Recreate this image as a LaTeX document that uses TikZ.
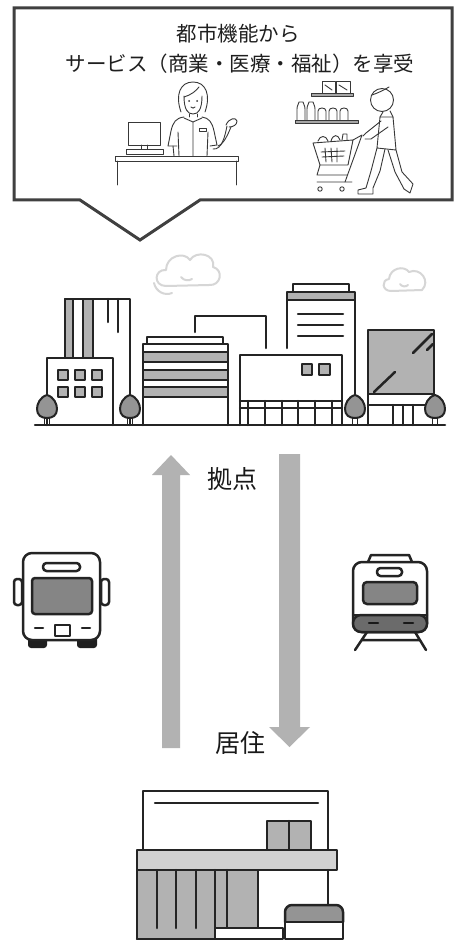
\documentclass[tikz,border=0pt]{standalone}
\usepackage{fontspec}
\newfontfamily\jpfont{Noto Sans CJK JP}
\begin{document}
\begin{tikzpicture}[x=1pt,y=-1pt,
  ink/.style={draw=black!86,line width=2.5pt,line join=round,line cap=round},
  sketch/.style={draw=black!78,line width=0.9pt,line join=round,line cap=round},
  shade/.style={fill=black!30},
  dark/.style={fill=black!48},
  cloud/.style={draw=black!16,line width=2pt,line cap=round,line join=round},
  flow/.style={fill=black!30,draw=none},
  caption/.style={font=\jpfont\fontsize{20.5}{24}\selectfont,text=black!88,inner sep=0pt},
  tag/.style={font=\jpfont\fontsize{25}{28}\selectfont,text=black!90,inner sep=0pt}]
\useasboundingbox (0,0) rectangle (455,941);
\fill[white] (0,0) rectangle (455,941);

% speech bubble
\draw[draw=black!75,line width=3pt,fill=white,line join=miter]
  (14,8) -- (452,8) -- (452,200) -- (200,200) -- (140,240) -- (80,200) -- (14,200) -- cycle;
\node[caption] (title) at (238,34) {都市機能から};
\node[caption] (service) at (240,64) {サービス（商業・医療・福祉）を享受};

% counter with clerk
\draw[sketch] (128,122) rectangle (160,145);
\draw[sketch] (141,145) -- (141,149) (147,145) -- (147,149);
\draw[sketch] (126,149) rectangle (163,154);
\draw[sketch] (115,156) rectangle (238,161);
\draw[sketch] (117,161) -- (117,185) (236,161) -- (236,185);
\draw[sketch] (181,112) .. controls (175,95) and (180,82) .. (193,82)
  .. controls (206,82) and (211,95) .. (205,112);
\draw[sketch] (184,96) .. controls (184,110) and (188,114) .. (193,114)
  .. controls (198,114) and (202,110) .. (202,96);
\draw[sketch] (184,97) .. controls (191,95) and (196,91) .. (199,87);
\fill[black!80] (189,101) circle[radius=1pt] (197,101) circle[radius=1pt];
\draw[sketch] (191,107) .. controls (192,108.5) and (194,108.5) .. (195,107);
\draw[sketch] (189,114) -- (189,117) (197,114) -- (197,117);
\draw[sketch] (184,118) -- (193,122) -- (202,118);
\draw[sketch] (184,117) .. controls (176,118) and (173,122) .. (171,131)
  -- (168,146) -- (177,146);
\draw[sketch] (173,146) -- (174,156) (178,132) -- (179,156);
\draw[sketch] (202,117) .. controls (209,118) and (212,122) .. (214,131)
  -- (217,145) -- (210,146);
\draw[sketch] (208,132) -- (207,156) (193,122) -- (193,156);
\draw[sketch] (199,128) rectangle (206,131);
\draw[sketch] (213,149) .. controls (222,150) and (225,136) .. (227,126);
\draw[sketch] (218,146) .. controls (224,144) and (228,134) .. (231,127);
\draw[sketch] (226,125) .. controls (229,118) and (236,117) .. (237,121)
  .. controls (237,125) and (233,127) .. (229,127);

% shelves and shopper
\draw[sketch] (322,81) rectangle (335,93) (336,81) rectangle (350,93);
\draw[sketch] (325,85) -- (332,90) (339,85) -- (347,90);
\draw[sketch,fill=black!35] (311,93) rectangle (353,96);
\foreach \bx in {297,307}
  \draw[sketch] (\bx,120) -- (\bx,109) .. controls (\bx,105) and (\bx+2,104) .. (\bx+2,102)
    -- (\bx+6,102) .. controls (\bx+6,104) and (\bx+8,105) .. (\bx+8,109) -- (\bx+8,120);
\foreach \jx in {318,329,340}
  \draw[sketch] (\jx,120) -- (\jx,111) .. controls (\jx,107) and (\jx+8,107) .. (\jx+8,111) -- (\jx+8,120);
\draw[sketch,fill=black!35] (295,120) rectangle (358,123);
\draw[sketch] (313,143) -- (353,140) -- (348,165) -- (320,165) -- cycle;
\draw[sketch] (318,141) .. controls (320,135) and (326,135) .. (328,141)
  (331,141) .. controls (333,134) and (338,134) .. (340,140) (342,140) -- (343,134) -- (347,134) -- (347,140);
\draw[sketch] (325,148) -- (326,162) (331,148) -- (332,162) (337,148) -- (337,162)
  (321,152) -- (345,151) (322,157) -- (344,156);
\draw[sketch] (353,140) -- (362,135) (362,135) -- (345,182);
\draw[sketch] (320,165) -- (317,175) -- (347,175) (317,182) -- (352,182);
\draw[sketch] (320,189) circle[radius=2.2pt] (342,189) circle[radius=2.2pt];
\draw[sketch] (382,100) circle[radius=11.5pt];
\draw[sketch] (372,95) .. controls (378,93) and (384,90) .. (389,87);
\draw[sketch] (383,112) -- (380,117) (390,111) -- (393,117);
\draw[sketch] (380,117) -- (377,148) -- (396,150) -- (393,117) -- cycle;
\draw[sketch] (381,121) -- (366,133) -- (363,136) (388,127) -- (371,139) -- (365,139);
\draw[sketch] (377,148) -- (371,171) -- (366,188) -- (358,190) -- (358,194) -- (373,194) -- (373,188)
  (385,149) -- (380,171) -- (373,188);
\draw[sketch] (396,150) -- (402,172) -- (413,184) -- (410,193) -- (404,189)
  (388,150) -- (395,172) -- (404,189);

% clouds
\draw[cloud] (166,286) .. controls (153,286) and (154,269) .. (166,270)
  .. controls (166,256) and (184,251) .. (190,260)
  .. controls (196,250) and (216,254) .. (213,267)
  .. controls (224,270) and (221,286) .. (209,285) -- cycle;
\draw[cloud] (181,277) .. controls (184,281) and (189,281) .. (192,279);
\draw[cloud] (154,283) .. controls (156,292) and (165,296) .. (172,293);
\draw[cloud] (391,291) .. controls (382,291) and (381,280) .. (389,279)
  .. controls (390,268) and (404,265) .. (409,272)
  .. controls (420,267) and (431,281) .. (422,290) -- cycle;
\draw[cloud] (400,284) .. controls (402,287) and (406,287) .. (408,285);

% skyline
\draw[ink] (65,358) -- (65,299) -- (130,299) -- (130,425);
\draw[ink,shade] (65,299) rectangle (73,358) (83,299) rectangle (93,358);
\draw[ink] (108,299) -- (108,322) (118,299) -- (118,332);
\draw[ink,fill=white] (47,425) -- (47,358) -- (113,358) -- (113,425);
\foreach \wx in {58,75,92}
  \foreach \wy in {370,387}
    \draw[ink,shade] (\wx,\wy) rectangle ++(10,10);
\draw[ink] (195,332) -- (195,316) -- (266,316) -- (266,348);
\draw[ink,fill=white] (147,344) -- (147,337) -- (223,337) -- (223,344);
\draw[ink,fill=white] (143,425) -- (143,344) -- (228,344) -- (228,425);
\foreach \sy in {352,370,387}
  \draw[ink,shade] (143,\sy) rectangle (228,\sy+10);
\draw[ink,fill=white] (293,292) -- (293,284) -- (349,284) -- (349,292);
\draw[ink,shade] (287,292) rectangle (355,300);
\draw[ink] (287,300) -- (287,348) (355,300) -- (355,400);
\foreach \ly in {314,325,336}
  \draw[ink] (298,\ly) -- (343,\ly);
\draw[ink,fill=white] (240,425) -- (240,355) -- (342,355) -- (342,425);
\draw[ink] (240,401) -- (342,401) (240,408) -- (342,408);
\foreach \mx in {248,265,282,298,315,332}
  \draw[ink] (\mx,401) -- (\mx,425);
\draw[ink,shade] (302,364) rectangle (312,375) (319,364) rectangle (330,375);
\draw[ink,shade] (368,330) rectangle (434,394);
\draw[ink] (368,394) -- (368,425) (434,394) -- (434,405) (368,405) -- (434,405);
\foreach \mx in {393,403,413}
  \draw[ink] (\mx,405) -- (\mx,425);
\draw[ink] (374,392) -- (395,372) (413,353) -- (432,334) (427,350) -- (433,344);
\foreach \tx in {47,130,355,435} {
  \draw[ink,line width=1.8pt] (\tx-2.5,417) -- (\tx-2.5,425) (\tx+2.5,417) -- (\tx+2.5,425);
  \draw[ink,line width=2pt,fill=black!42] (\tx,395) .. controls (\tx+7,397) and (\tx+10,404) .. (\tx+10,409)
    .. controls (\tx+10,415) and (\tx+6,418) .. (\tx,418) .. controls (\tx-6,418) and (\tx-10,415) .. (\tx-10,409)
    .. controls (\tx-10,404) and (\tx-7,397) .. (\tx,395) -- cycle;
}
\draw[ink] (35,425) -- (445,425);

% two way arrows
\fill[flow] (162,748) -- (162,475) -- (152,475) -- (171,455) -- (190,475) -- (180,475) -- (180,748) -- cycle;
\fill[flow] (279,454) -- (300,454) -- (300,727) -- (310,727) -- (289.5,747) -- (269,727) -- (279,727) -- cycle;
\node[tag] (hub) at (232,479) {拠点};
\node[tag] (home) at (240,743) {居住};

% bus
\draw[ink,fill=white,rounded corners=3pt] (14,579) rectangle (22,605);
\draw[ink,fill=white,rounded corners=3pt] (101,579) rectangle (109,605);
\fill[black!88,rounded corners=3pt] (28,636) rectangle (47,648) (77,636) rectangle (97,648);
\draw[ink,fill=white,rounded corners=9pt] (23,640) rectangle (100,553);
\draw[ink,fill=white,rounded corners=3.5pt] (43,563) rectangle (80,571);
\draw[ink,dark,rounded corners=3pt] (32,578) rectangle (92,614);
\draw[ink] (35,628) -- (43,628) (82,628) -- (90,628);
\draw[ink,fill=white] (55,625) rectangle (70,636);

% train
\draw[ink,fill=white] (368,562) -- (371,555) -- (409,555) -- (412,562);
\draw[ink] (367,632) -- (355,650) (415,632) -- (426,650) (362,640) -- (419,640);
\draw[ink,fill=white,rounded corners=9pt] (353,632) rectangle (427,562);
\draw[ink,fill=black!58,rounded corners=8pt] (353,615) -- (353,632) -- (427,632) -- (427,615) -- cycle;
\draw[ink] (353,615) -- (427,615);
\draw[ink,draw=black!90] (369,623) -- (378,623) (404,623) -- (413,623);
\draw[ink,fill=white,rounded corners=3.5pt] (377,568) rectangle (402,576);
\draw[ink,dark,rounded corners=4pt] (363,582) rectangle (417,604);

% shop
\draw[ink,fill=white] (143,850) -- (143,791) -- (328,791) -- (328,850);
\draw[ink] (155,803) -- (318,803);
\draw[ink,shade] (267,850) -- (267,821) -- (311,821) -- (311,850);
\draw[ink] (289,821) -- (289,850);
\draw[ink,fill=black!18] (137,850) rectangle (337,870);
\draw[ink] (328,870) -- (328,905);
\draw[ink,shade] (137,939) -- (137,870) -- (258,870) -- (258,928) -- (215,928) -- (215,939) -- cycle;
\foreach \px in {157,176,196,215,227}
  \draw[ink] (\px,870) -- (\px,928);
\draw[ink] (137,939) -- (215,939);
\draw[ink,fill=white] (215,928) rectangle (283,939);
\draw[ink,fill=black!42,rounded corners=7pt] (285,922) -- (285,905) -- (343,905) -- (343,922);
\draw[ink,fill=white] (285,922) rectangle (343,939);
\end{tikzpicture}
\end{document}
